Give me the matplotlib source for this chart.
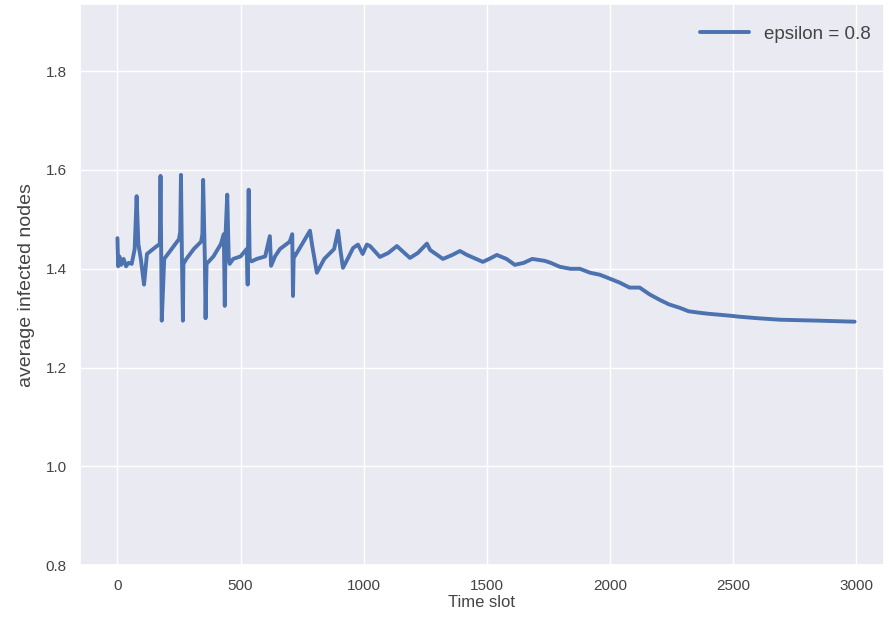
import matplotlib
matplotlib.use("Agg")
import matplotlib.pyplot as plt
import seaborn as sns

sns.set_theme(style="darkgrid")
plt.rcParams['font.family'] = ['Liberation Sans', 'DejaVu Sans']

# Time slots
time_slot = [0, 3, 8, 15, 25, 35, 45, 58, 70, 78, 85, 95, 108, 120, 140, 160, 172, 175, 178, 180,
             190, 220, 250, 255, 258, 262, 266, 268, 280, 310, 340, 345, 348, 355, 358, 362, 390,
             420, 432, 436, 440, 446, 452, 456, 470, 500, 525, 529, 533, 537, 545, 566, 600, 619,
             624, 640, 660, 700, 710, 713, 716, 720, 750, 782, 790, 810, 840, 880, 896, 905, 916,
             940, 957, 977, 996, 1013, 1026, 1066, 1100, 1135, 1148, 1188, 1220, 1257, 1270, 1322,
             1360, 1391, 1420, 1484, 1510, 1541, 1580, 1614, 1650, 1685, 1736, 1760, 1797, 1840,
             1878, 1920, 1959, 2000, 2040, 2080, 2121, 2162, 2203, 2240, 2284, 2320, 2365, 2400,
             2446, 2490, 2527, 2600, 2690, 2770, 2852, 2920, 2994]
# Average infected nodes
avg_infected = [1.462, 1.405, 1.425, 1.408, 1.420, 1.405, 1.412, 1.410, 1.440, 1.547, 1.450, 1.420,
                1.368, 1.430, 1.438, 1.446, 1.450, 1.588, 1.420, 1.295,
                1.420, 1.440, 1.460, 1.475, 1.590, 1.420, 1.295, 1.410, 1.420, 1.440, 1.455, 1.470,
                1.580, 1.420, 1.300, 1.410, 1.425, 1.450, 1.470, 1.325, 1.480, 1.550, 1.420, 1.410,
                1.420, 1.425, 1.440, 1.368, 1.560, 1.420, 1.415, 1.420, 1.425, 1.466,
                1.406, 1.425, 1.440, 1.455, 1.470, 1.345, 1.430, 1.425, 1.450, 1.477, 1.450,
                1.392, 1.420, 1.440, 1.477, 1.440, 1.402,
                1.425, 1.442, 1.449, 1.430, 1.449, 1.446, 1.424, 1.432, 1.446, 1.440, 1.422, 1.432,
                1.451, 1.438, 1.420, 1.428, 1.436, 1.428, 1.414, 1.420, 1.428, 1.420, 1.408, 1.412,
                1.420, 1.416, 1.412, 1.404, 1.400, 1.400, 1.392, 1.388, 1.380, 1.372, 1.362, 1.362,
                1.348, 1.337, 1.328, 1.321, 1.314, 1.311, 1.309, 1.307, 1.305, 1.303, 1.300, 1.297,
                1.296, 1.295, 1.294, 1.293]

text_color = '#444444'

fig, ax = plt.subplots(figsize=(8.89, 6.24), dpi=100)
fig.subplots_adjust(left=0.09, right=0.994, top=0.993, bottom=0.094)

ax.plot(time_slot, avg_infected, color='#4C72B0', lw=2.8, label='epsilon = 0.8')
ax.set_xlim(-152, 3112)
ax.set_ylim(0.8, 1.935)
ax.set_xticks([0, 500, 1000, 1500, 2000, 2500, 3000])
ax.set_yticks([0.8, 1.0, 1.2, 1.4, 1.6, 1.8])
ax.tick_params(labelsize=11, colors=text_color)
ax.set_xlabel('Time slot', fontsize=12, color=text_color, labelpad=2)
ax.set_ylabel('average infected nodes', fontsize=14, color=text_color, labelpad=8)
leg = ax.legend(loc='upper right', fontsize=13.5, frameon=False, handlelength=2.6,
                bbox_to_anchor=(1.0, 0.985), borderaxespad=0.3)
for t in leg.get_texts():
    t.set_color(text_color)

fig.savefig('out.png', dpi=100)
